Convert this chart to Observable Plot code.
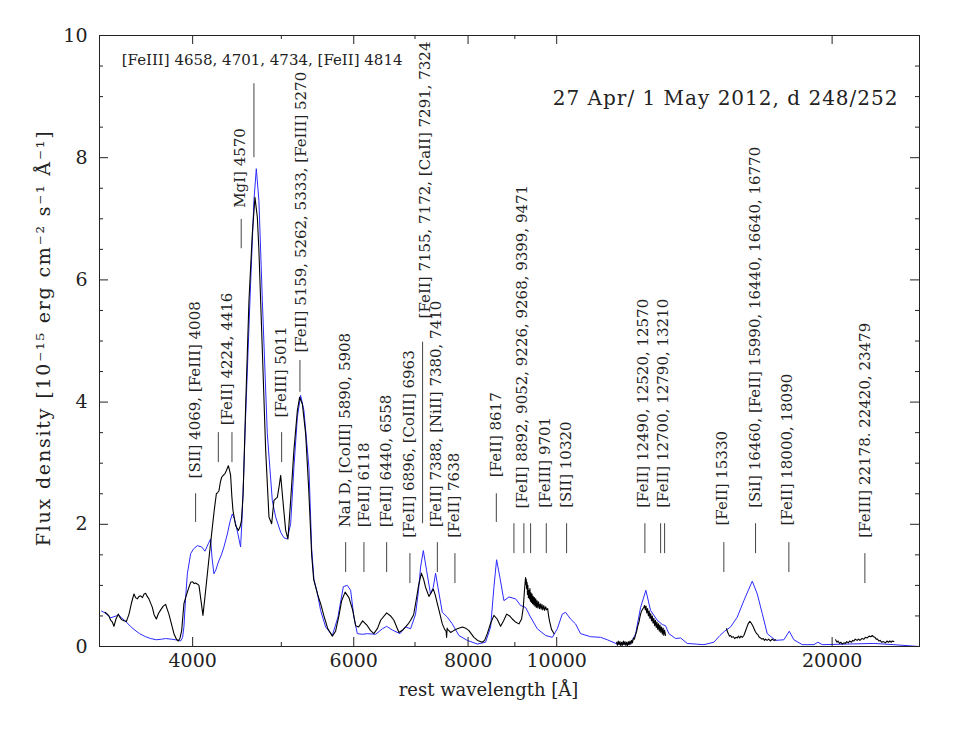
<!DOCTYPE html>
<html><head><meta charset="utf-8">
<script src="https://cdn.jsdelivr.net/npm/d3@7"></script>
<script src="https://cdn.jsdelivr.net/npm/@observablehq/plot@0.6"></script>
<style>body{margin:0;background:#fff;}</style>
</head><body><div id="chart"></div>
<script>
// Observed spectrum (black), segments [wavelength Å, flux]
const obsOptical = [
[3208,0.56],[3227,0.53],[3240,0.50],[3254,0.43],[3268,0.40],[3281,0.33],[3298,0.45],[3318,0.53],[3330,0.48],[3345,0.44],[3365,0.42],[3385,0.41],[3395,0.46],[3408,0.53],[3430,0.72],[3451,0.86],[3465,0.80],[3480,0.78],[3495,0.82],[3509,0.83],[3525,0.80],[3540,0.86],[3553,0.87],[3568,0.82],[3583,0.78],[3614,0.64],[3630,0.52],[3651,0.45],[3670,0.54],[3691,0.60],[3715,0.66],[3737,0.69],[3750,0.62],[3768,0.53],[3795,0.35],[3816,0.21],[3840,0.12],[3858,0.09],[3875,0.14],[3891,0.26],[3913,0.70],[3930,0.80],[3947,0.89],[3965,0.98],[3980,1.05],[4000,1.06],[4015,1.03],[4030,1.04],[4050,1.02],[4064,1.00],[4085,0.75],[4105,0.51],[4125,0.80],[4151,1.19],[4175,1.55],[4203,1.95],[4225,2.25],[4246,2.50],[4260,2.52],[4274,2.55],[4290,2.70],[4303,2.77],[4320,2.80],[4339,2.83],[4355,2.88],[4376,2.96],[4390,2.88],[4401,2.80],[4415,2.45],[4427,2.23],[4457,1.98],[4487,1.90],[4505,1.95],[4522,2.05],[4542,2.50],[4570,3.90],[4609,5.66],[4648,6.75],[4679,7.35],[4707,7.03],[4726,6.48],[4767,4.84],[4807,3.21],[4847,2.12],[4880,2.01],[4908,2.39],[4930,2.42],[4950,2.44],[4970,2.60],[4992,2.80],[5020,2.39],[5055,1.90],[5084,1.76],[5119,2.39],[5161,3.21],[5206,3.86],[5236,4.08],[5272,3.97],[5316,3.48],[5356,2.60],[5397,1.50],[5424,1.10],[5479,0.85],[5520,0.70],[5566,0.50],[5618,0.30],[5685,0.17],[5732,0.25],[5780,0.50],[5820,0.75],[5871,0.89],[5928,0.80],[5983,0.60],[6029,0.34],[6074,0.32],[6136,0.42],[6209,0.34],[6260,0.26],[6312,0.21],[6372,0.30],[6420,0.43],[6518,0.55],[6583,0.50],[6638,0.43],[6723,0.23],[6786,0.27],[6836,0.32],[6889,0.38],[6923,0.43],[6976,0.52],[7010,0.70],[7064,1.00],[7113,1.20],[7154,1.10],[7188,0.97],[7250,0.82],[7290,0.88],[7330,0.94],[7364,0.85],[7405,0.70],[7448,0.55],[7498,0.37],[7542,0.28],[7570,0.25],[7580,0.15],[7590,0.30],[7599,0.28],[7657,0.23],[7715,0.26],[7787,0.29],[7886,0.32],[7952,0.30],[8018,0.26],[8119,0.15],[8195,0.10],[8292,0.07],[8340,0.10],[8397,0.21],[8468,0.38],[8538,0.51],[8607,0.45],[8683,0.33],[8749,0.42],[8815,0.53],[8882,0.50],[8942,0.45],[9017,0.40],[9092,0.37],[9154,0.45],[9193,0.64],[9224,0.95],[9246,1.13],
[9255,1.02],[9262,1.10],[9270,0.95],[9280,1.05],[9290,0.85],[9300,1.00],[9312,0.80],[9324,0.92],[9336,0.78],[9348,0.95],[9360,0.74],[9372,0.88],[9385,0.72],[9398,0.86],[9411,0.70],[9425,0.82],[9440,0.68],[9455,0.80],[9470,0.66],[9485,0.78],[9500,0.64],[9518,0.75],[9535,0.63],[9554,0.73],[9575,0.62],[9595,0.70],[9615,0.61],[9635,0.69],[9655,0.60],[9680,0.67],[9700,0.59],[9725,0.65],[9749,0.60],[9775,0.62],[9798,0.50],[9820,0.42],[9847,0.34],[9870,0.28],[9897,0.25],[9934,0.21]
];
const obsNir1 = [
[11627,0.07],[11650,0.02],[11675,0.09],[11700,0.03],[11725,0.08],[11750,0.01],[11775,0.07],[11800,0.02],[11825,0.09],[11850,0.03],[11875,0.08],[11900,0.02],[11925,0.07],[11950,0.01],[11975,0.08],[12000,0.03],[12025,0.09],[12050,0.04],[12075,0.10],[12100,0.06],[12130,0.14],[12160,0.12],[12198,0.20],[12230,0.25],[12260,0.33],[12300,0.40],[12329,0.48],[12360,0.55],[12400,0.60],[12440,0.63],[12476,0.67],[12500,0.60],[12520,0.66],[12545,0.55],[12570,0.62],[12595,0.50],[12620,0.58],[12645,0.46],[12670,0.54],[12695,0.42],[12720,0.50],[12745,0.38],[12770,0.46],[12795,0.34],[12820,0.43],[12845,0.31],[12870,0.40],[12895,0.28],[12920,0.37],[12945,0.25],[12970,0.35],[12995,0.23],[13020,0.32],[13045,0.20],[13070,0.30],[13095,0.18],[13120,0.27],[13151,0.18]
];
const obsNir2 = [
[15334,0.29],[15370,0.24],[15410,0.20],[15450,0.17],[15490,0.18],[15540,0.15],[15600,0.16],[15650,0.13],[15700,0.15],[15752,0.14],[15800,0.17],[15850,0.14],[15900,0.17],[15950,0.15],[16016,0.18],[16080,0.25],[16150,0.33],[16200,0.38],[16261,0.41],[16320,0.38],[16380,0.34],[16425,0.30],[16480,0.25],[16540,0.21],[16600,0.19],[16633,0.16],[16700,0.14],[16760,0.12],[16820,0.13],[16870,0.10],[16916,0.12],[16980,0.10],[17050,0.12],[17120,0.09],[17200,0.12],[17280,0.10],[17350,0.11]
];
const obsNir3 = [
[20174,0.11],[20250,0.07],[20300,0.09],[20380,0.05],[20450,0.07],[20520,0.04],[20601,0.06],[20680,0.05],[20750,0.08],[20830,0.06],[20900,0.09],[21000,0.07],[21060,0.10],[21126,0.09],[21200,0.12],[21300,0.10],[21380,0.12],[21450,0.10],[21550,0.13],[21664,0.12],[21750,0.15],[21850,0.14],[21950,0.17],[22050,0.16],[22127,0.18],[22200,0.16],[22280,0.15],[22350,0.12],[22420,0.12],[22498,0.09],[22570,0.10],[22650,0.07],[22750,0.08],[22879,0.06],[22960,0.09],[23050,0.07],[23130,0.09],[23200,0.07],[23280,0.09],[23362,0.08]
];
// Model spectrum (blue)
const model = [
[3180,0.58],[3208,0.55],[3254,0.47],[3300,0.50],[3318,0.52],[3345,0.47],[3385,0.40],[3420,0.33],[3450,0.28],[3500,0.21],[3553,0.16],[3600,0.13],[3650,0.11],[3700,0.12],[3737,0.13],[3790,0.12],[3832,0.11],[3881,0.09],[3900,0.15],[3913,0.32],[3930,0.80],[3947,1.19],[3980,1.52],[4010,1.60],[4048,1.65],[4092,1.63],[4126,1.56],[4160,1.68],[4185,1.76],[4200,1.45],[4220,1.19],[4240,1.25],[4267,1.38],[4300,1.50],[4328,1.63],[4365,1.84],[4395,2.05],[4420,2.17],[4440,2.10],[4457,2.01],[4483,1.84],[4513,1.63],[4530,2.10],[4551,2.93],[4570,3.75],[4628,5.94],[4667,7.30],[4695,7.82],[4726,7.30],[4767,5.66],[4827,3.48],[4888,2.39],[4929,2.12],[4992,1.87],[5033,1.78],[5076,1.76],[5119,2.01],[5161,2.93],[5206,3.75],[5249,4.11],[5293,3.86],[5360,2.93],[5397,1.60],[5428,1.10],[5470,0.90],[5520,0.59],[5590,0.32],[5685,0.18],[5766,0.48],[5845,0.98],[5904,1.00],[5953,0.92],[6003,0.48],[6054,0.21],[6130,0.20],[6209,0.21],[6340,0.20],[6448,0.29],[6518,0.33],[6612,0.27],[6740,0.21],[6836,0.32],[6923,0.29],[7010,0.53],[7060,0.90],[7099,1.30],[7148,1.57],[7208,1.24],[7279,0.86],[7330,0.97],[7372,1.20],[7416,0.97],[7498,0.56],[7594,0.48],[7689,0.37],[7818,0.18],[7985,0.10],[8189,0.04],[8361,0.07],[8468,0.32],[8538,0.97],[8596,1.42],[8668,1.13],[8756,0.75],[8867,0.81],[9017,0.78],[9132,0.67],[9246,0.64],[9364,0.48],[9523,0.29],[9724,0.18],[9890,0.15],[10015,0.29],[10141,0.53],[10226,0.56],[10354,0.45],[10486,0.37],[10618,0.21],[10891,0.16],[11168,0.15],[11358,0.11],[11647,0.04],[12045,0.04],[12198,0.21],[12351,0.64],[12516,0.92],[12664,0.59],[12880,0.43],[13043,0.36],[13151,0.34],[13262,0.21],[13489,0.13],[13658,0.14],[13890,0.05],[14483,0.03],[14853,0.07],[15079,0.18],[15258,0.25],[15490,0.32],[15752,0.48],[16016,0.75],[16359,1.07],[16566,0.86],[16775,0.54],[16988,0.21],[17350,0.10],[17713,0.11],[17955,0.25],[18165,0.11],[18552,0.03],[19102,0.03],[19296,0.07],[19511,0.03],[20778,0.04],[22216,0.05],[23362,0.03],[24878,0.00]
];
// Line identification markers: wavelength, lower and upper flux of the bar
const markerWl = [4030,4267,4416,4520,4667,5004,5240,5879,6156,6518,6911,7135,7405,7740,8590,8979,9207,9364,9741,10252,12485,12989,13120,15230,16495,17937,21719];
const markerLo = [2.03,3.01,3.01,6.51,8.00,3.01,4.16,1.21,1.21,1.21,1.03,2.01,1.21,1.03,2.03,1.52,1.52,1.52,1.52,1.52,1.52,1.52,1.52,1.21,1.52,1.21,1.03];
const markerHi = [2.50,3.50,3.50,6.99,9.21,3.50,4.68,1.70,1.70,1.70,1.52,4.98,1.70,1.52,2.50,2.01,2.01,2.01,2.01,2.01,2.01,2.01,2.01,1.70,2.01,1.70,1.52];
// Vertical labels: text, wavelength, flux where text starts
const labelText = ["[SII] 4069, [FeIII] 4008","[FeII] 4224, 4416","MgI] 4570","[FeII] 5159, 5262, 5333, [FeIII] 5270","[FeIII] 5011","NaI D, [CoIII] 5890, 5908","[FeII] 6118","[FeII] 6440, 6558","[FeII] 6896, [CoIII] 6963","[FeII] 7155, 7172, [CaII] 7291, 7324","[FeII] 7388, [NiII] 7380, 7410","[FeII] 7638","[FeII] 8617","[FeII] 8892, 9052, 9226, 9268, 9399, 9471","[FeIII] 9701","[SII] 10320","[FeII] 12490, 12520, 12570","[FeII] 12700, 12790, 13210","[FeII] 15330","[SiI] 16460, [FeII] 15990, 16440, 16640, 16770","[FeII] 18000, 18090","[FeIII] 22178. 22420, 23479"];
const labelWl = [4030,4365,4513,5262,5004,5879,6156,6518,6897,7188,7391,7724,8590,9170,9724,10252,12444,13087,15181,16495,17879,21710];
const labelY = [2.75,3.62,7.18,4.81,3.75,1.95,1.95,1.95,1.78,5.37,1.95,1.78,2.77,2.26,2.27,2.27,2.27,2.27,1.98,2.27,1.98,1.78];
const topLabel = {text:"[FeIII] 4658, 4701, 4734, [FeII] 4814", wl:4764, y:9.59};
const titleText = "27 Apr/ 1 May 2012, d 248/252";
const xLabel = "rest wavelength [Å]";
const yLabel = "Flux density [10⁻¹⁵ erg cm⁻² s⁻¹ Å⁻¹]";
const xTickMajor = [4000,6000,8000,10000,20000];
const xTickMinor = [5000,7000,9000];
const yTickMajor = [0,2,4,6,8,10];
const yTickMinor = [0.5,1,1.5,2.5,3,3.5,4.5,5,5.5,6.5,7,7.5,8.5,9,9.5];

const toRows = (arr, seg) => arr.map(([w,f]) => ({w, f, seg}));
const obsRows = [...toRows(obsOptical,"a"),...toRows(obsNir1,"b"),...toRows(obsNir2,"c"),...toRows(obsNir3,"d")];
const modelRows = toRows(model,"m");
const markers = markerWl.map((w,i)=>({w, lo:markerLo[i], hi:markerHi[i]}));
const labels = labelText.map((t,i)=>({t, w:labelWl[i], y:labelY[i]}));

const W=977, H=730, mL=99, mR=58, mT=35, mB=84;
const fw = W-mL-mR, fh = H-mT-mB;
const ink = "#222";
const font = "'DejaVu Serif', serif";

const chart = Plot.plot({
  width: W, height: H,
  marginLeft: mL, marginRight: mR, marginTop: mT, marginBottom: mB,
  style: {fontFamily: font, fontSize: "19px", color: ink, background: "#fff"},
  x: {type: "log", domain: [3164, 24920], ticks: xTickMajor, tickFormat: d => String(d), tickSize: 0, tickPadding: 7, label: null},
  y: {domain: [0, 10], ticks: yTickMajor, tickFormat: d => String(d), tickSize: 0, tickPadding: 12, label: null},
  marks: [
    Plot.line(modelRows, {x: "w", y: "f", stroke: "#2b2bff", strokeWidth: 1}),
    Plot.line(obsRows, {x: "w", y: "f", z: "seg", stroke: "#000", strokeWidth: 1.1}),
    Plot.ruleX(markers, {x: "w", y1: "lo", y2: "hi", stroke: "#444", strokeWidth: 1}),
    Plot.text(labels, {x: "w", y: "y", text: "t", rotate: -90, textAnchor: "start", lineAnchor: "middle", fontSize: 15, fill: ink}),
    Plot.text([topLabel], {x: "wl", y: "y", text: "text", textAnchor: "middle", lineAnchor: "middle", fontSize: 15, fill: ink}),
    Plot.text([titleText], {frameAnchor: "top-right", text: d => d, dx: -21, dy: 63, textAnchor: "end", lineAnchor: "middle", fontSize: 20, fill: ink}),
    Plot.text([xLabel], {frameAnchor: "bottom", text: d => d, dx: -21, dy: 44, textAnchor: "middle", lineAnchor: "middle", fontSize: 18, fill: ink}),
    Plot.text([yLabel], {frameAnchor: "left", text: d => d, dx: -56, dy: -3, rotate: -90, textAnchor: "middle", lineAnchor: "middle", fontSize: 19, fill: ink}),
    Plot.tickX(xTickMajor, {x: d => d, insetTop: fh - 9, stroke: ink}),
    Plot.tickX(xTickMinor, {x: d => d, insetTop: fh - 4, stroke: ink}),
    Plot.tickX(xTickMajor, {x: d => d, insetBottom: fh - 9, stroke: ink}),
    Plot.tickX(xTickMinor, {x: d => d, insetBottom: fh - 4, stroke: ink}),
    Plot.tickY(yTickMajor, {y: d => d, insetRight: fw - 9, stroke: ink}),
    Plot.tickY(yTickMinor, {y: d => d, insetRight: fw - 4, stroke: ink}),
    Plot.tickY(yTickMajor, {y: d => d, insetLeft: fw - 9, stroke: ink}),
    Plot.tickY(yTickMinor, {y: d => d, insetLeft: fw - 4, stroke: ink}),
    Plot.frame({stroke: ink, strokeWidth: 1})
  ]
});
// wider letter spacing for the title and the y-axis label, as in the reference
d3.select(chart).selectAll("g[aria-label='text']").each(function() {
  const fs = this.getAttribute("font-size");
  if (fs === "20") this.setAttribute("letter-spacing", "1");
  if (fs === "19") this.setAttribute("letter-spacing", "1.8");
});
document.getElementById("chart").appendChild(chart);
</script>
</body></html>
